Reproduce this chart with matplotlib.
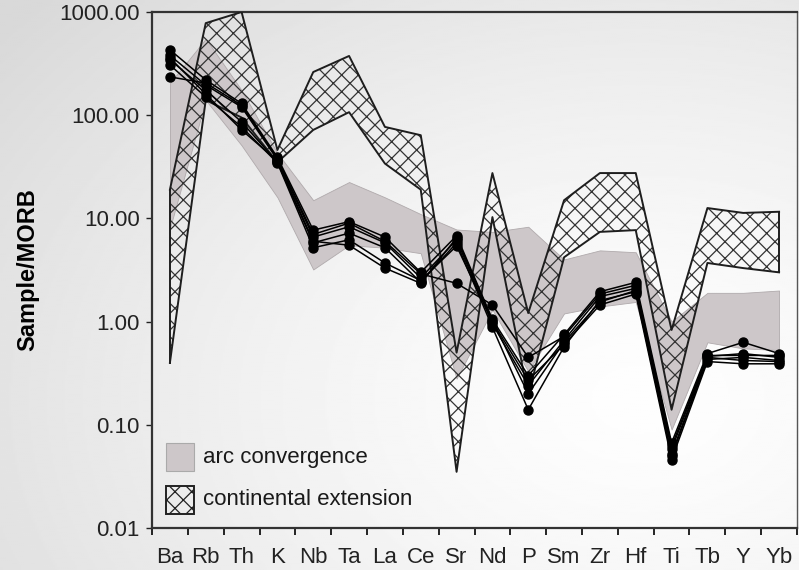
import numpy as np
import matplotlib
matplotlib.use("Agg")
import matplotlib.pyplot as plt
from matplotlib.patches import Rectangle
from matplotlib.ticker import FixedLocator, FixedFormatter, NullLocator

plt.rcParams['font.family'] = ['Liberation Sans', 'DejaVu Sans']
plt.rcParams['hatch.linewidth'] = 0.9
plt.rcParams['hatch.color'] = '#333333'

# MORB-normalised spider diagram elements
elements = ['Ba', 'Rb', 'Th', 'K', 'Nb', 'Ta', 'La', 'Ce', 'Sr', 'Nd',
            'P', 'Sm', 'Zr', 'Hf', 'Ti', 'Tb', 'Y', 'Yb']

# arc convergence field (upper / lower envelope)
arc_upper = [205, 550, 175, 43, 15, 22.5, 16, 11, 7.8, 7.4,
             8.3, 4.0, 4.9, 4.7, 1.0, 1.9, 1.9, 2.0]
arc_lower = [8, 140, 51, 16, 3.2, 5.5, 5.2, 4.6, 0.28, 1.3,
             0.33, 1.2, 1.4, 1.55, 0.09, 0.63, 0.55, 0.53]

# continental extension field (upper / lower envelope)
ext_upper = [19, 780, 1000, 46, 262, 375, 77, 64, 0.50, 27.5,
             1.21, 15, 27.5, 27.5, 0.83, 12.6, 11.3, 11.6]
ext_lower = [0.40, 140, 95, 35, 72, 107, 34, 19, 0.035, 10.3,
             0.195, 4.2, 7.4, 7.7, 0.14, 3.7, 3.3, 3.0]

# sample analyses
samples = [
    [430, 220, 130, 39, 7.7, 9.3, 6.6, 3.0, 6.8, 1.05, 0.30, 0.75, 1.95, 2.4, 0.067, 0.49, 0.63, 0.49],
    [380, 196, 120, 37, 6.6, 8.3, 5.8, 2.65, 6.2, 0.95, 0.24, 0.66, 1.75, 2.1, 0.058, 0.46, 0.49, 0.45],
    [345, 175, 86, 35, 5.8, 7.2, 5.2, 2.4, 5.8, 0.88, 0.14, 0.57, 1.6, 1.95, 0.050, 0.43, 0.45, 0.42],
    [307, 150, 77, 34.5, 5.2, 6.2, 3.7, 2.5, 5.4, 1.0, 0.27, 0.60, 1.45, 1.85, 0.046, 0.41, 0.39, 0.39],
    [235, 205, 125, 38, 7.0, 9.0, 6.0, 2.9, 2.35, 1.45, 0.45, 0.72, 1.85, 2.25, 0.062, 0.47, 0.47, 0.47],
    [360, 160, 72, 36, 6.0, 5.5, 3.3, 2.35, 6.5, 1.02, 0.20, 0.63, 1.55, 2.0, 0.052, 0.45, 0.42, 0.41],
]

y_ticks = [0.01, 0.1, 1, 10, 100, 1000]

x = np.arange(len(elements))

fig = plt.figure(figsize=(7.99, 5.70), dpi=100)

# soft radial grey background
bg = fig.add_axes([0, 0, 1, 1], zorder=-10)
gx, gy = np.meshgrid(np.linspace(0, 799, 400), np.linspace(0, 570, 300))
r = np.hypot((gx - 640) / 799, (gy - 400) / 570)
shade = np.clip(0.995 - 0.14 * r ** 1.4, 0.85, 1.0)
bg.imshow(shade, cmap='gray', vmin=0, vmax=1, extent=[0, 799, 570, 0], aspect='auto')
bg.axis('off')

ax = fig.add_axes([152 / 799, 42 / 570, 645 / 799, 516 / 570])
ax.patch.set_alpha(0)

ax.fill_between(x, arc_lower, arc_upper, facecolor='#cdc7c9', edgecolor='#b0aaac',
                linewidth=0.6, zorder=1)

ax.fill_between(x, ext_lower, ext_upper, facecolor='none', edgecolor='#333333',
                hatch='xx', linewidth=0, zorder=2)
ax.plot(x, ext_upper, color='#1e1e1e', lw=1.4, zorder=3)
ax.plot(x, ext_lower, color='#1e1e1e', lw=1.4, zorder=3)
ax.plot([0, 0], [ext_lower[0], ext_upper[0]], color='#1e1e1e', lw=1.4, zorder=3)
ax.plot([17, 17], [ext_lower[-1], ext_upper[-1]], color='#1e1e1e', lw=1.4, zorder=3)

for s in samples:
    ax.plot(x, s, color='black', lw=1.1, marker='o', ms=6.5, zorder=4)

ax.set_yscale('log')
ax.set_ylim(0.01, 1000)
ax.set_xlim(-0.5, 17.5)

ax.yaxis.set_major_locator(FixedLocator(y_ticks))
ax.yaxis.set_major_formatter(FixedFormatter(['%.2f' % v for v in y_ticks]))
ax.yaxis.set_minor_locator(NullLocator())
ax.tick_params(axis='y', which='major', direction='out', length=4, width=1,
               pad=5, labelsize=16, colors='#222222')

ax.set_xticks(x)
ax.set_xticklabels(elements)
ax.set_xticks(np.arange(-0.5, 18, 1), minor=True)
ax.tick_params(axis='x', which='major', length=0, pad=14, labelsize=16, colors='#222222')
ax.tick_params(axis='x', which='minor', direction='out', length=5, width=1.2)

for side in ['left', 'bottom', 'top']:
    ax.spines[side].set_linewidth(1.6)
    ax.spines[side].set_color('#333333')
ax.spines['right'].set_linewidth(1.0)
ax.spines['right'].set_color('#555555')

ax.set_ylabel('Sample/MORB', fontsize=17, fontweight='bold', labelpad=14)

# legend boxes
ax.add_patch(Rectangle((0.022, 0.110), 0.043, 0.054, transform=ax.transAxes,
                       facecolor='#cdc7c9', edgecolor='#aaaaaa', lw=0.8, zorder=5))
ax.text(0.079, 0.137, 'arc convergence', transform=ax.transAxes, fontsize=16,
        va='center', ha='left', color='#1a1a1a')
ax.add_patch(Rectangle((0.022, 0.028), 0.043, 0.054, transform=ax.transAxes,
                       facecolor='none', edgecolor='#222222', hatch='xx', lw=1.4, zorder=5))
ax.text(0.079, 0.055, 'continental extension', transform=ax.transAxes, fontsize=16,
        va='center', ha='left', color='#1a1a1a')

fig.savefig('out.png', dpi=100)
